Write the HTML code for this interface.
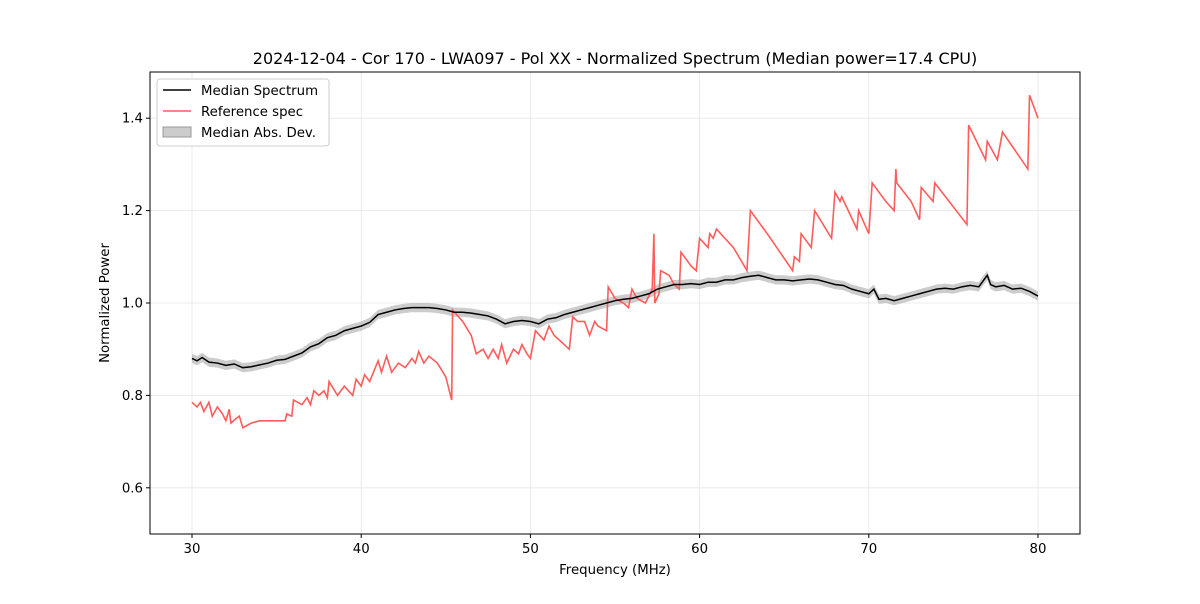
<!DOCTYPE html>
<html><head><meta charset="utf-8"><style>
body{margin:0;background:#fff;font-family:"DejaVu Sans","Liberation Sans",sans-serif}
svg text{font-family:"DejaVu Sans","Liberation Sans",sans-serif}
</style></head><body>
<svg id="c" width="1200" height="600" xmlns="http://www.w3.org/2000/svg"></svg>
<script>
const xTicks=[30,40,50,60,70,80];
const yTicks=[0.6,0.8,1.0,1.2,1.4];
const medFreq=[30,30.3,30.6,31,31.5,32,32.5,33,33.5,34,34.5,35,35.5,36,36.5,37,37.5,38,38.5,39,39.5,40,40.5,41,41.5,42,42.5,43,43.5,44,44.5,45,45.5,46,46.5,47,47.5,48,48.5,49,49.5,50,50.5,51,51.5,52,52.5,53,53.5,54,54.5,55,55.5,56,56.5,57,57.5,58,58.5,59,59.5,60,60.5,61,61.5,62,62.5,63,63.5,64,64.5,65,65.5,66,66.5,67,67.5,68,68.5,69,69.5,70,70.3,70.6,71,71.5,72,72.5,73,73.5,74,74.5,75,75.5,76,76.5,77,77.2,77.5,78,78.5,79,79.5,80];
const medVal=[0.88,0.875,0.882,0.872,0.87,0.865,0.868,0.86,0.862,0.866,0.87,0.876,0.878,0.885,0.892,0.905,0.912,0.925,0.93,0.94,0.945,0.95,0.958,0.975,0.98,0.985,0.988,0.99,0.99,0.99,0.988,0.985,0.98,0.98,0.978,0.975,0.972,0.965,0.955,0.96,0.962,0.96,0.955,0.965,0.968,0.975,0.98,0.985,0.99,0.995,1.0,1.005,1.008,1.01,1.015,1.02,1.03,1.035,1.04,1.04,1.042,1.04,1.045,1.045,1.05,1.05,1.055,1.058,1.06,1.055,1.05,1.05,1.048,1.05,1.052,1.05,1.045,1.04,1.038,1.03,1.025,1.02,1.03,1.008,1.01,1.005,1.01,1.015,1.02,1.025,1.03,1.032,1.03,1.035,1.038,1.035,1.06,1.04,1.035,1.038,1.03,1.032,1.025,1.015];
const madVal=0.01;
const refFreq=[30,30.3,30.5,30.7,31,31.2,31.5,31.8,32,32.2,32.3,32.6,32.8,33,33.5,34,35,35.5,35.6,35.9,36,36.5,36.8,37,37.2,37.5,37.8,38,38.1,38.6,39,39.5,39.7,40,40.2,40.5,41,41.2,41.5,41.8,42.2,42.6,43,43.2,43.4,43.7,44,44.5,45,45.35,45.4,46,46.5,46.8,47.2,47.5,47.8,48.1,48.3,48.6,49,49.3,49.5,49.8,50,50.3,50.8,51.1,51.4,52.3,52.5,52.8,53.2,53.5,53.8,54,54.5,54.6,55,55.5,55.8,56,56.3,56.8,57.2,57.3,57.35,57.6,57.7,58.2,58.5,58.8,58.9,59.5,59.8,60,60.5,60.6,60.8,61,62,62.8,63,64,65.5,65.6,65.9,66,66.6,66.8,67.8,68,68.3,68.4,69.3,69.4,70,70.2,71,71.5,71.6,71.65,72.5,73,73.1,73.8,73.9,75.8,75.9,76.9,77,77.6,77.9,79.4,79.5,80];
const refVal=[0.785,0.775,0.785,0.765,0.785,0.755,0.775,0.76,0.745,0.77,0.74,0.75,0.755,0.73,0.74,0.745,0.745,0.745,0.76,0.755,0.79,0.78,0.795,0.78,0.81,0.8,0.81,0.795,0.83,0.8,0.82,0.8,0.835,0.82,0.845,0.83,0.875,0.85,0.885,0.85,0.87,0.86,0.88,0.87,0.895,0.87,0.885,0.87,0.84,0.79,0.985,0.96,0.93,0.89,0.9,0.88,0.9,0.88,0.91,0.87,0.9,0.89,0.91,0.89,0.88,0.94,0.92,0.95,0.93,0.9,0.97,0.96,0.96,0.93,0.96,0.95,0.94,1.035,1.01,1.0,0.99,1.03,1.01,1.0,1.03,1.15,1.0,1.02,1.07,1.06,1.04,1.03,1.11,1.08,1.07,1.14,1.12,1.15,1.14,1.16,1.12,1.07,1.2,1.15,1.07,1.1,1.09,1.15,1.12,1.2,1.14,1.24,1.22,1.23,1.16,1.2,1.15,1.26,1.22,1.2,1.29,1.26,1.22,1.18,1.25,1.22,1.26,1.17,1.385,1.31,1.35,1.31,1.37,1.29,1.45,1.4];

const svg=document.getElementById('c');const NS='http://www.w3.org/2000/svg';
const L=150,R=1080,T=72,B=534;
const xs=f=>192+(f-30)*(1038-192)/50;
const ys=v=>B-(v-0.5)*(B-T)/1.0;
function mk(t,a,txt){const e=document.createElementNS(NS,t);for(const k in a)e.setAttribute(k,a[k]);if(txt!=null)e.textContent=txt;svg.appendChild(e);return e;}
let e;
xTicks.forEach(t=>{e=mk('line',{x1:xs(t),x2:xs(t),y1:T,y2:B,stroke:'#e6e6e6','stroke-width':0.8});


e=mk('line',{x1:xs(t),x2:xs(t),y1:B,y2:B+4,stroke:'#000'});


e=mk('text',{x:xs(t),y:B+19,'text-anchor':'middle','font-size':13.3},t);

});
yTicks.forEach(t=>{e=mk('line',{x1:L,x2:R,y1:ys(t),y2:ys(t),stroke:'#e6e6e6','stroke-width':0.8});


e=mk('line',{x1:L-4,x2:L,y1:ys(t),y2:ys(t),stroke:'#000'});


e=mk('text',{x:L-7,y:ys(t)+4.5,'text-anchor':'end','font-size':13.3},t.toFixed(1));

});
let up=medFreq.map((f,i)=>xs(f)+','+ys(medVal[i]+madVal));
let dn=medFreq.map((f,i)=>xs(f)+','+ys(medVal[i]-madVal)).reverse();
e=mk('polygon',{points:up.concat(dn).join(' '),fill:'#999','fill-opacity':0.5});


e=mk('polyline',{points:refFreq.map((f,i)=>xs(f)+','+ys(refVal[i])).join(' '),fill:'none',stroke:'#ff5c5c','stroke-width':1.6});


e=mk('polyline',{points:medFreq.map((f,i)=>xs(f)+','+ys(medVal[i])).join(' '),fill:'none',stroke:'#000','stroke-width':1.5});


e=mk('rect',{x:L,y:T,width:R-L,height:B-T,fill:'none',stroke:'#000','stroke-width':1});


e=mk('text',{x:615,y:64,'text-anchor':'middle','font-size':16},'2024-12-04 - Cor 170 - LWA097 - Pol XX - Normalized Spectrum (Median power=17.4 CPU)');


e=mk('text',{x:615,y:574,'text-anchor':'middle','font-size':13.3},'Frequency (MHz)');


e=mk('text',{x:109,y:303,'text-anchor':'middle','font-size':13.3,transform:'rotate(-90 109 303)'},'Normalized Power');


e=mk('rect',{x:157,y:79,width:172,height:67,rx:3,fill:'#fff',stroke:'#ccc'});


e=mk('line',{x1:163,x2:191,y1:90,y2:90,stroke:'#000','stroke-width':1.6});


e=mk('text',{x:201,y:95,'font-size':13.3},'Median Spectrum');


e=mk('line',{x1:163,x2:191,y1:111,y2:111,stroke:'#ff5c5c','stroke-width':1.6});


e=mk('text',{x:201,y:116,'font-size':13.3},'Reference spec');


e=mk('rect',{x:163,y:127,width:28,height:10,fill:'#ccc',stroke:'#999'});


e=mk('text',{x:201,y:137,'font-size':13.3},'Median Abs. Dev.');


</script>
</body></html>
